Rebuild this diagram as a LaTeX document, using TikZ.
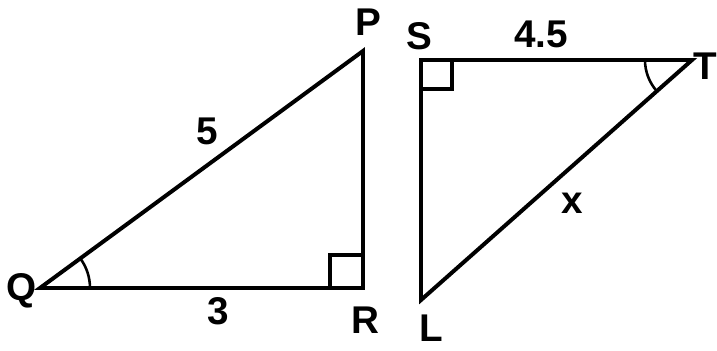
\documentclass[tikz,border=0pt]{standalone}
\usepackage{fontspec}
\setmainfont{Liberation Sans}
\usetikzlibrary{positioning}
\tikzset{
  side/.style={line width=3.4pt, line join=miter},
  rightmark/.style={line width=2.6pt},
  anglemark/.style={line width=2.2pt},
  vlabel/.style={font=\fontsize{33}{36}\selectfont\bfseries, inner sep=0pt},
  slabel/.style={font=\fontsize{33}{36}\selectfont\bfseries, inner sep=0pt}
}
\begin{document}
\begin{tikzpicture}[x=0.03cm, y=0.03cm]
  \useasboundingbox (0,0) rectangle (717,350);
  % first triangle
  \coordinate (Q) at (40,62);
  \coordinate (R) at (363,62);
  \coordinate (P) at (363,299);
  \draw[side] (Q) -- (R) -- (P) -- cycle;
  \draw[rightmark] (R) ++(-33,0) -- ++(0,33) -- ++(33,0);
  \draw[anglemark] (Q) ++(50,0) arc (0:36.3:50);
  % second triangle
  \coordinate (S) at (421,290);
  \coordinate (T) at (692,290);
  \coordinate (L) at (421,50);
  \draw[side] (S) -- (T) -- (L) -- cycle;
  \draw[rightmark] (S) ++(31,0) -- ++(0,-29) -- ++(-31,0);
  \draw[anglemark] (T) ++(-47,0) arc (180:221.4:47);
  % labels
  \node[vlabel] (lp) at (368,328) {P};
  \node[vlabel] (lq) at (22,59) {Q};
  \node[vlabel] (lr) at (365,30) {R};
  \node[vlabel] (ls) at (419,314) {S};
  \node[vlabel] (lt) at (705,284) {T};
  \node[vlabel] (ll) at (431,22) {L};
  \node[slabel] (five) at (207,219) {5};
  \node[slabel] (three) at (218,39) {3};
  \node[slabel] (fourfive) at (541,316) {4.5};
  \node[slabel] (xx) at (572,147) {x};
\end{tikzpicture}
\end{document}
